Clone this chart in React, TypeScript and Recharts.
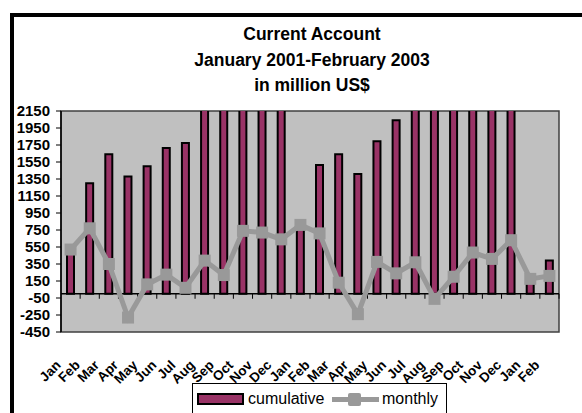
import React from "react";
import {
  ComposedChart,
  Bar,
  Line,
  XAxis,
  YAxis,
  CartesianGrid,
  ReferenceLine,
  ReferenceArea,
} from "recharts";

// Jan 2001 .. Feb 2003
const months = [
  "Jan", "Feb", "Mar", "Apr", "May", "Jun", "Jul", "Aug", "Sep", "Oct", "Nov", "Dec",
  "Jan", "Feb", "Mar", "Apr", "May", "Jun", "Jul", "Aug", "Sep", "Oct", "Nov", "Dec",
  "Jan", "Feb",
];

// cumulative within each year, million US$
const cumulative = [
  520, 1300, 1640, 1380, 1500, 1715, 1775, 2180, 2400, 3140, 3860, 4500,
  810, 1515, 1640, 1410, 1795, 2040, 2410, 2350, 2550, 3035, 3445, 4075,
  175, 390,
];

const monthly = [
  520, 770, 350, -280, 110, 225, 70, 390, 220, 740, 720, 640,
  810, 710, 130, -240, 375, 240, 370, -60, 200, 485, 410, 630,
  175, 210,
];

const yTicks = [-450, -250, -50, 150, 350, 550, 750, 950, 1150, 1350, 1550, 1750, 1950, 2150];

const titleLines = ["Current Account", "January 2001-February 2003", "in million US$"];

const data = months.map((m, i) => ({
  idx: i,
  cumulative: cumulative[i],
  monthly: monthly[i],
}));

const FONT = "'Liberation Sans', Arial, sans-serif";
const PLUM = "#993366";
const GREY = "#999999";

const MonthTick = ({ x, y, payload }: any) => {
  const ax = x - 9;
  const ay = y + 26;
  return (
    <text
      x={ax}
      y={ay}
      transform={`rotate(-45 ${ax} ${ay})`}
      textAnchor="end"
      fontFamily={FONT}
      fontWeight="bold"
      fontSize={13.5}
      fill="#000"
    >
      {months[payload.value]}
    </text>
  );
};

const SquareDot = ({ cx, cy }: any) => {
  if (cx == null || cy == null) return null;
  return <rect x={cx - 6} y={cy - 6} width={12} height={12} fill={GREY} />;
};

// zero line with tick marks between categories
const ZeroAxis = (props: any) => {
  const { x1, y1, x2 } = props;
  const n = months.length;
  const step = (x2 - x1) / n;
  const marks = [];
  for (let k = 1; k <= n; k++) {
    const tx = x1 + k * step;
    marks.push(<line key={k} x1={tx} x2={tx} y1={y1} y2={y1 + 5} stroke="#000" strokeWidth={1} />);
  }
  return (
    <g>
      <line x1={x1} x2={x2} y1={y1} y2={y1} stroke="#000" strokeWidth={1.5} />
      {marks}
    </g>
  );
};

export default function App() {
  return (
    <div
      style={{
        position: "fixed",
        left: 0,
        top: 0,
        width: 582,
        height: 413,
        overflow: "hidden",
        background: "#fff",
        fontFamily: FONT,
      }}
    >
      <div
        style={{
          position: "absolute",
          left: 10,
          top: 13,
          width: 610,
          height: 430,
          border: "4px solid #000",
          boxSizing: "border-box",
        }}
      />
      <svg width={582} height={100} style={{ position: "absolute", left: 0, top: 0 }}>
        {titleLines.map((t, i) => (
          <text
            key={i}
            x={312}
            y={40 + i * 25.5}
            textAnchor="middle"
            fontFamily={FONT}
            fontWeight="bold"
            fontSize={17.5}
            fill="#000"
          >
            {t}
          </text>
        ))}
      </svg>
      <div style={{ position: "absolute", left: 0, top: 0 }}>
        <ComposedChart
          width={582}
          height={413}
          data={data}
          margin={{ top: 111, right: 23, bottom: 31, left: 0 }}
          barGap={0}
        >
          <CartesianGrid fill="#C0C0C0" horizontal={false} vertical={false} />
          <XAxis
            dataKey="idx"
            height={50}
            interval={0}
            axisLine={false}
            tickLine={false}
            tick={<MonthTick />}
          />
          <YAxis
            width={61}
            domain={[-450, 2150]}
            ticks={yTicks}
            allowDataOverflow
            interval={0}
            tickSize={5}
            tickMargin={6}
            axisLine={{ stroke: "#000", strokeWidth: 1.5 }}
            tickLine={{ stroke: "#000" }}
            tick={{ fill: "#000", fontSize: 15, fontWeight: "bold", fontFamily: FONT }}
          />
          <ReferenceArea
            y1={-450}
            y2={2150}
            fill="none"
            stroke="#404040"
            strokeWidth={1.5}
            ifOverflow="visible"
          />
          <Bar
            dataKey="cumulative"
            fill={PLUM}
            stroke="#000"
            strokeWidth={2}
            barSize={7}
            isAnimationActive={false}
          />
          <ReferenceLine y={0} shape={<ZeroAxis />} />
          <Line
            type="linear"
            dataKey="monthly"
            stroke={GREY}
            strokeWidth={5}
            dot={<SquareDot />}
            activeDot={false}
            isAnimationActive={false}
          />
        </ComposedChart>
      </div>
      <div
        style={{
          position: "absolute",
          left: 192,
          top: 383,
          width: 255,
          height: 50,
          border: "1px solid #000",
          background: "#fff",
          boxSizing: "border-box",
        }}
      >
        <div
          style={{
            position: "absolute",
            left: 4,
            top: 9,
            width: 47,
            height: 12,
            background: PLUM,
            border: "2px solid #000",
            boxSizing: "border-box",
          }}
        />
        <div style={{ position: "absolute", left: 55, top: 5, fontSize: 16, lineHeight: "19px" }}>
          cumulative
        </div>
        <div style={{ position: "absolute", left: 139, top: 13, width: 47, height: 5, background: GREY }} />
        <div style={{ position: "absolute", left: 155, top: 9, width: 13, height: 13, borderRadius: 2, background: GREY }} />
        <div style={{ position: "absolute", left: 189, top: 5, fontSize: 16, lineHeight: "19px" }}>
          monthly
        </div>
      </div>
    </div>
  );
}
